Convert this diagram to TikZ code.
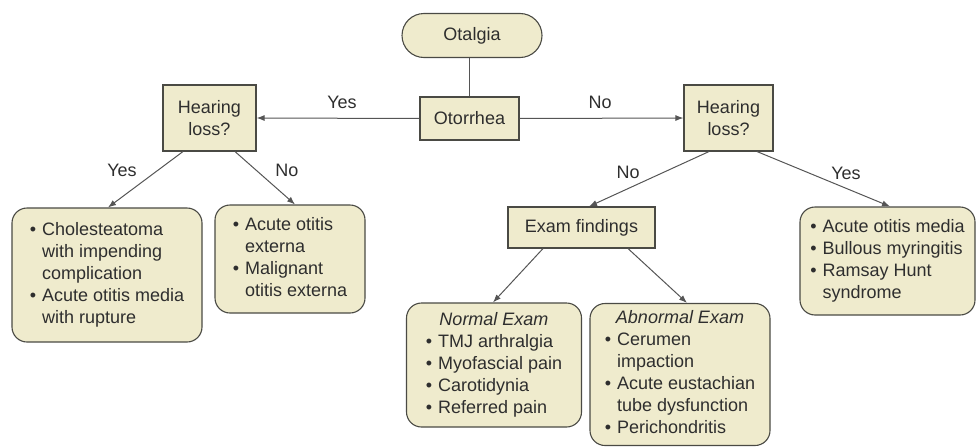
\documentclass[tikz,border=0pt]{standalone}
\usepackage{fontspec}
\setmainfont{Liberation Sans}
\usetikzlibrary{arrows.meta}
\definecolor{boxfill}{HTML}{EFEBCD}
\definecolor{bordercol}{HTML}{4A4A44}
\definecolor{textcol}{HTML}{2E2E2E}
\definecolor{linecol}{HTML}{555555}
\newcommand\bul{\textbullet}
\begin{document}
\begin{tikzpicture}[x=1pt,y=-1pt,
  base/.style={draw=bordercol, line width=1.1pt, fill=boxfill, text=textcol, inner sep=0pt,
    font=\fontsize{18}{22}\selectfont, align=center},
  sqbox/.style={base},
  rbox/.style={base, rounded corners=15pt},
  pill/.style={base, rounded corners=22pt},
  lbl/.style={text=textcol, font=\fontsize{18}{22}\selectfont, inner sep=0pt},
  conn/.style={draw=linecol, line width=1pt},
  arr/.style={conn, -{Latex[length=8pt,width=6pt]}}
]
\useasboundingbox (0,0) rectangle (976,447);

\node[pill, minimum width=140pt, minimum height=44pt] (otalgia) at (472,35.5) {Otalgia};
\node[sqbox, minimum width=99pt, minimum height=43pt] (otorrhea) at (469.5,118.5) {Otorrhea};
\node[sqbox, minimum width=93pt, minimum height=66pt] (hlL) at (209.5,118) {Hearing\\loss?};
\node[sqbox, minimum width=89pt, minimum height=66pt] (hlR) at (728.5,118) {Hearing\\loss?};
\node[sqbox, minimum width=147pt, minimum height=41pt] (exam) at (581.5,227.5) {Exam findings};

\node[rbox, minimum width=190pt, minimum height=134pt] (chol) at (107,275) {%
\begin{tabular}{@{}l@{\hspace{6pt}}l@{}}
\bul & Cholesteatoma\\
 & with impending\\
 & complication\\
\bul & Acute otitis media\\
 & with rupture
\end{tabular}};

\node[rbox, minimum width=150pt, minimum height=108pt] (aoe) at (290,259) {%
\begin{tabular}{@{}l@{\hspace{6pt}}l@{}}
\bul & Acute otitis\\
 & externa\\
\bul & Malignant\\
 & otitis externa
\end{tabular}};

\node[rbox, minimum width=175pt, minimum height=108pt] (aom) at (887.5,261) {%
\begin{tabular}{@{}l@{\hspace{6pt}}l@{}}
\bul & Acute otitis media\\
\bul & Bullous myringitis\\
\bul & Ramsay Hunt\\
 & syndrome
\end{tabular}};

\node[rbox, minimum width=175pt, minimum height=124pt] (normal) at (494,365) {%
\begin{tabular}{@{}l@{\hspace{6pt}}l@{}}
\multicolumn{2}{c}{\textit{Normal Exam}}\\
\bul & TMJ arthralgia\\
\bul & Myofascial pain\\
\bul & Carotidynia\\
\bul & Referred pain
\end{tabular}};

\node[rbox, minimum width=180pt, minimum height=142pt] (abnormal) at (680,374.5) {%
\begin{tabular}{@{}l@{\hspace{6pt}}l@{}}
\multicolumn{2}{c}{\textit{Abnormal Exam}}\\
\bul & Cerumen\\
 & impaction\\
\bul & Acute eustachian\\
 & tube dysfunction\\
\bul & Perichondritis
\end{tabular}};

% labels
\node[lbl] (lyes1) at (342,102) {Yes};
\node[lbl] (lno1) at (600,102) {No};
\node[lbl] (lyes2) at (122,170) {Yes};
\node[lbl] (lno2) at (287,170) {No};
\node[lbl] (lno3) at (628,172) {No};
\node[lbl] (lyes3) at (846,173) {Yes};

% connectors
\draw[conn] (otorrhea.north) -- (otorrhea.north |- otalgia.south);
\draw[arr] (otorrhea.west) -- (hlL.east);
\draw[arr] (otorrhea.east) -- (hlR.west);
\draw[arr] ([xshift=-26.5pt]hlL.south) -- ([xshift=1pt]chol.north);
\draw[arr] ([xshift=25.5pt]hlL.south) -- ([xshift=5pt]aoe.north);
\draw[arr] ([xshift=-19.5pt]hlR.south) -- ([xshift=7.5pt]exam.north);
\draw[arr] ([xshift=28.5pt]hlR.south) -- ([xshift=2.5pt]aom.north);
\draw[arr] ([xshift=-38.5pt]exam.south) -- ([xshift=-1pt]normal.north);
\draw[arr] ([xshift=46.5pt]exam.south) -- ([xshift=7pt]abnormal.north);
\end{tikzpicture}
\end{document}
